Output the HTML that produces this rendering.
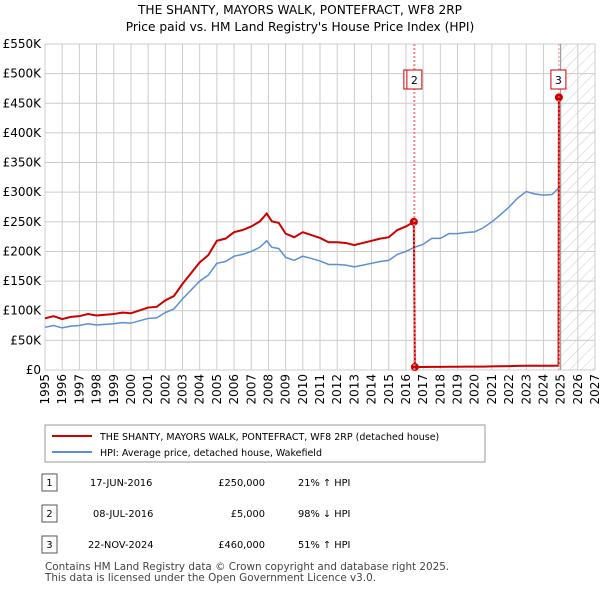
<!DOCTYPE html>
<html><head><meta charset="utf-8"><style>
body{margin:0;background:#fff;font-family:"DejaVu Sans",sans-serif;}
svg text{font-family:"DejaVu Sans",sans-serif;}
</style></head><body>
<svg id="chart" width="600" height="590" xmlns="http://www.w3.org/2000/svg">
<defs><pattern id="hatch" width="8" height="8" patternUnits="userSpaceOnUse" patternTransform="rotate(45)"><line x1="0" y1="0" x2="0" y2="8" stroke="#ccc" stroke-width="1"/></pattern></defs>
<text x="300" y="14" text-anchor="middle" font-size="12.2">THE SHANTY, MAYORS WALK, PONTEFRACT, WF8 2RP</text>
<text x="300" y="31" text-anchor="middle" font-size="12.2">Price paid vs. HM Land Registry's House Price Index (HPI)</text>
<g id="grid"></g><g id="axes"></g><g id="series"></g><g id="marks"></g>
<rect x="45" y="425" width="440" height="37" fill="#fff" stroke="#999"/>
<line x1="52" y1="436" x2="92" y2="436" stroke="#cc0000" stroke-width="2"/>
<text x="100" y="440" font-size="9.5">THE SHANTY, MAYORS WALK, PONTEFRACT, WF8 2RP (detached house)</text>
<line x1="52" y1="452" x2="92" y2="452" stroke="#5b8fd4" stroke-width="2"/>
<text x="100" y="456" font-size="9.5">HPI: Average price, detached house, Wakefield</text>
<g font-size="9.8">
<rect x="42" y="474" width="15" height="17" fill="#fff" stroke="#555"/><text x="49.5" y="486" text-anchor="middle">1</text>
<text x="90" y="486">17-JUN-2016</text><text x="265" y="486" text-anchor="end">£250,000</text><text x="298" y="486">21% ↑ HPI</text>
<rect x="42" y="505" width="15" height="17" fill="#fff" stroke="#555"/><text x="49.5" y="517" text-anchor="middle">2</text>
<text x="93" y="517">08-JUL-2016</text><text x="265" y="517" text-anchor="end">£5,000</text><text x="298" y="517">98% ↓ HPI</text>
<rect x="42" y="536" width="15" height="17" fill="#fff" stroke="#555"/><text x="49.5" y="548" text-anchor="middle">3</text>
<text x="88" y="548">22-NOV-2024</text><text x="265" y="548" text-anchor="end">£460,000</text><text x="298" y="548">51% ↑ HPI</text>
</g>
<text x="45" y="570" font-size="10.4" fill="#444">Contains HM Land Registry data © Crown copyright and database right 2025.</text>
<text x="45" y="581" font-size="10.4" fill="#444">This data is licensed under the Open Government Licence v3.0.</text>
</svg>
<script>
const hpiYears=[1995,1995.5,1996,1996.5,1997,1997.5,1998,1998.5,1999,1999.5,2000,2000.5,2001,2001.5,2002,2002.5,2003,2003.5,2004,2004.5,2005,2005.5,2006,2006.5,2007,2007.5,2007.9,2008.2,2008.6,2009,2009.5,2010,2010.5,2011,2011.5,2012,2012.5,2013,2013.5,2014,2014.5,2015,2015.5,2016,2016.5,2017,2017.5,2018,2018.5,2019,2019.5,2020,2020.5,2021,2021.5,2022,2022.5,2023,2023.5,2024,2024.5,2025];
const hpiValues=[72,75,71,74,75,78,76,77,78,80,79,83,87,88,97,103,120,135,150,160,180,183,192,195,200,207,218,207,205,190,185,192,188,184,178,178,177,174,177,180,183,185,195,200,207,212,222,222,230,230,232,233,240,250,262,275,290,301,297,295,296,310];
const saleYears=[2016.46,2016.52,2024.9];
const salePrices=[250,5,460];
const saleLabels=["1","2","3"];
const yTicks=[0,50,100,150,200,250,300,350,400,450,500,550];
const yTickLabels=["£0","£50K","£100K","£150K","£200K","£250K","£300K","£350K","£400K","£450K","£500K","£550K"];
const xTicks=[1995,1996,1997,1998,1999,2000,2001,2002,2003,2004,2005,2006,2007,2008,2009,2010,2011,2012,2013,2014,2015,2016,2017,2018,2019,2020,2021,2022,2023,2024,2025,2026,2027];
const NS="http://www.w3.org/2000/svg";
const X0=45,X1=595,Y0=370,Y1=44;
const xs=y=>X0+(y-1995)/(2027-1995)*(X1-X0);
const ys=v=>Y0-v/550*(Y0-Y1);
function el(tag,attrs,parent){const e=document.createElementNS(NS,tag);for(const k in attrs)e.setAttribute(k,attrs[k]);document.getElementById(parent).appendChild(e);return e;}
function hpiAt(t){for(let i=0;i<hpiYears.length-1;i++){if(t<=hpiYears[i+1]){const f=(t-hpiYears[i])/(hpiYears[i+1]-hpiYears[i]);return hpiValues[i]+f*(hpiValues[i+1]-hpiValues[i]);}}return hpiValues[hpiValues.length-1];}
const hatch=el('rect',{x:xs(2025),y:Y1,width:X1-xs(2025),height:Y0-Y1,fill:'url(#hatch)'},'grid');


yTicks.forEach((t,i)=>{
 const l=el('line',{x1:X0,x2:X1,y1:ys(t),y2:ys(t),stroke:'#ccc'},'grid');
 
 
 const tx=el('text',{x:X0-4,y:ys(t)+4,'text-anchor':'end','font-size':'12'},'axes');
 tx.textContent=yTickLabels[i];
 
 
});
xTicks.forEach(t=>{
 const l=el('line',{x1:xs(t),x2:xs(t),y1:Y1,y2:Y0,stroke:'#ccc'},'grid');
 
 
 const tx=el('text',{x:0,y:0,'text-anchor':'end','font-size':'12',transform:`translate(${xs(t)+4},374) rotate(-90)`},'axes');
 tx.textContent=t;
 
 
});
const nl=el('line',{x1:xs(2025),x2:xs(2025),y1:Y1,y2:Y0,stroke:'#999'},'grid');


const hp=el('polyline',{points:hpiYears.map((y,i)=>xs(y)+','+ys(hpiValues[i])).join(' '),fill:'none',stroke:'#5b8fd4','stroke-width':1.5},'series');


const pts=[];
const r0=salePrices[0]/hpiAt(saleYears[0]);
hpiYears.forEach((y,i)=>{if(y<saleYears[0])pts.push([y,hpiValues[i]*r0]);});
pts.push([saleYears[0],salePrices[0]]);
const r1=salePrices[1]/hpiAt(saleYears[1]);
pts.push([saleYears[1],salePrices[1]]);
hpiYears.forEach((y,i)=>{if(y>saleYears[1]&&y<saleYears[2])pts.push([y,hpiValues[i]*r1]);});
pts.push([saleYears[2]-0.02,hpiAt(saleYears[2])*r1]);
pts.push([saleYears[2],salePrices[2]]);
const pl=el('polyline',{points:pts.map(p=>xs(p[0])+','+ys(p[1])).join(' '),fill:'none',stroke:'#cc0000','stroke-width':2},'series');


saleYears.forEach((y,i)=>{
 const v=el('line',{x1:xs(y),x2:xs(y),y1:Y1,y2:Y0,stroke:'#f08080','stroke-dasharray':'2,2'},'marks');
 
 
 const c=el('circle',{cx:xs(y),cy:ys(salePrices[i]),r:4,fill:'#cc0000'},'series');
 
 
 const bx=xs(y)-(i===0?10:8);
 const b=el('rect',{x:bx,y:70,width:15,height:19,fill:'#fff',stroke:'#cc0000'},'marks');
 
 
 const t=el('text',{x:bx+7.5,y:84,'text-anchor':'middle','font-size':'11'},'marks');
 t.textContent=saleLabels[i];
 
 
});
</script>
</body></html>
